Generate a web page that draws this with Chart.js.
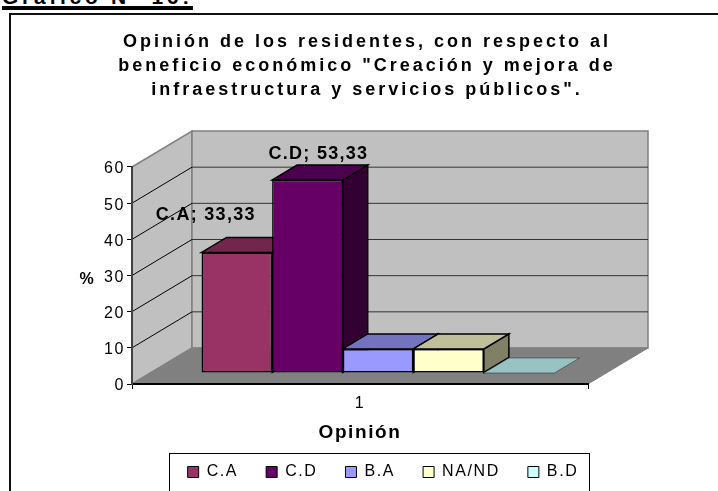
<!DOCTYPE html>
<html>
<head>
<meta charset="utf-8">
<title>Gráfico</title>
<script src="https://cdn.jsdelivr.net/npm/chart.js@4/dist/chart.umd.min.js"></script>
<style>
html, body { margin: 0; padding: 0; background: #fff; overflow: hidden; }
#wrap { position: relative; width: 718px; height: 491px; overflow: hidden; }
#head { position: absolute; left: 2px; top: -15px; font: bold 21px "Liberation Sans", Arial, sans-serif; letter-spacing: 3.7px; text-decoration: underline; text-decoration-thickness: 4px; white-space: nowrap; }
canvas { position: absolute; left: 0; top: 0; }
</style>
</head>
<body>
<div id="wrap">
<div id="head">Gráfico N° 16:</div>
<canvas id="chart" width="718" height="491"></canvas>
</div>
<script>
const categories = ['1'];
const seriesNames = ['C.A', 'C.D', 'B.A', 'NA/ND', 'B.D'];
const seriesValues = [33.33, 53.33, 6.67, 6.67, 0];
const tickValues = [0, 10, 20, 30, 40, 50, 60];
const titleLines = [
    'Opinión de los residentes, con respecto al',
    'beneficio económico "Creación y mejora de',
    'infraestructura y servicios públicos".'
];
const frontColors = ['#993366', '#660066', '#9999FF', '#FFFFCC', '#CCFFFF'];
const topColors = ['#73264D', '#4D004D', '#7373BF', '#BFBF99', '#99C2C2'];
const sideColors = ['#4D1A33', '#330033', '#4D4D80', '#808066', '#668080'];

const FONT = '"Liberation Sans", Arial, sans-serif';
// depth of the walls and of the bars, in px
const WALL = { dx: 60, dy: -36 };
const BAR_SHIFT = { dx: 18, dy: -11 };
const BAR_DEPTH = { dx: 25, dy: -15 };

function poly(ctx, pts, fill, stroke, lw) {
    ctx.beginPath();
    pts.forEach((p, i) => i ? ctx.lineTo(p[0], p[1]) : ctx.moveTo(p[0], p[1]));
    ctx.closePath();
    if (fill) { ctx.fillStyle = fill; ctx.fill(); }
    if (stroke) { ctx.strokeStyle = stroke; ctx.lineWidth = lw || 1; ctx.stroke(); }
}

const chart3d = {
    id: 'chart3d',
    beforeLayout(chart) {
        chart.ctx.letterSpacing = '1.6px';
    },
    afterLayout(chart) {
        // legend and title sit off the plot centre in the original
        chart.legend.left += 89;
        chart.legend.right += 89;
        chart.legend.top = 436;
        chart.titleBlock.left += 73;
        chart.titleBlock.right += 73;
        if (!chart.titleBlock._spaced) {
            const draw = chart.titleBlock.draw;
            chart.titleBlock.draw = function () {
                chart.ctx.letterSpacing = '3px';
                draw.call(this);
                chart.ctx.letterSpacing = '1.6px';
            };
            chart.titleBlock._spaced = true;
        }
    },
    beforeDraw(chart) {
        const ctx = chart.ctx;
        const { x, y } = chart.scales;
        const l = x.left, r = x.right, b = y.getPixelForValue(0), t = y.getPixelForValue(60);
        const { dx, dy } = WALL;
        ctx.save();
        ctx.strokeStyle = '#111';
        ctx.lineWidth = 2;
        ctx.strokeRect(10, 14, 720, 520);
        ctx.strokeStyle = '#000';
        ctx.lineWidth = 1;
        ctx.strokeRect(169.5, 453.5, 420, 60);
        poly(ctx, [[l, t], [l + dx, t + dy], [l + dx, b + dy], [l, b]], '#C0C0C0', '#808080', 1.5);
        poly(ctx, [[l + dx, t + dy], [r + dx, t + dy], [r + dx, b + dy], [l + dx, b + dy]], '#C0C0C0', '#808080', 1.5);
        poly(ctx, [[l, b], [l + dx, b + dy], [r + dx, b + dy], [r, b]], '#808080', '#808080', 1);
        tickValues.forEach(v => {
            if (v === 0 || v === 60) return;
            const py = y.getPixelForValue(v);
            ctx.strokeStyle = '#000';
            ctx.lineWidth = 1;
            ctx.beginPath();
            ctx.moveTo(l, py);
            ctx.lineTo(l + dx, py + dy);
            ctx.stroke();
            ctx.strokeStyle = '#333';
            ctx.beginPath();
            ctx.moveTo(l + dx, py + dy);
            ctx.lineTo(r + dx, py + dy);
            ctx.stroke();
        });
        ctx.restore();
    },
    beforeDatasetsDraw(chart) {
        const ctx = chart.ctx;
        const { dx, dy } = BAR_DEPTH;
        ctx.save();
        ctx.translate(BAR_SHIFT.dx, BAR_SHIFT.dy);
        seriesValues.forEach((v, i) => {
            const bar = chart.getDatasetMeta(i).data[0];
            const x0 = bar.x - bar.width / 2, x1 = bar.x + bar.width / 2;
            const yTop = bar.y, yBase = bar.base;
            if (v > 0) {
                poly(ctx, [[x1, yTop], [x1 + dx, yTop + dy], [x1 + dx, yBase + dy], [x1, yBase]], sideColors[i], '#000', 1.5);
            }
            poly(ctx, [[x0, yTop], [x1, yTop], [x1 + dx, yTop + dy], [x0 + dx, yTop + dy]], topColors[i], v > 0 ? '#000' : '#222', v > 0 ? 1.5 : 0.5);
        });
    },
    afterDatasetsDraw(chart) {
        chart.ctx.restore();
    },
    afterDraw(chart) {
        const ctx = chart.ctx;
        const { y } = chart.scales;
        ctx.save();
        ctx.fillStyle = '#000';
        ctx.textAlign = 'center';
        ctx.textBaseline = 'middle';
        // percent axis label stays horizontal, so it is not the scale title
        ctx.font = 'bold 16px ' + FONT;
        ctx.letterSpacing = '1px';
        ctx.fillText('%', 87, y.getPixelForValue(29));
        // value labels
        ctx.font = 'bold 18px ' + FONT;
        ctx.letterSpacing = '1.3px';
        const offsets = [[-31, -37], [11, -26]];
        seriesValues.forEach((v, i) => {
            if (!offsets[i]) return;
            const bar = chart.getDatasetMeta(i).data[0];
            const text = seriesNames[i] + '; ' + String(v).replace('.', ',');
            ctx.fillText(text, bar.x + BAR_SHIFT.dx + offsets[i][0], bar.y + BAR_SHIFT.dy + offsets[i][1]);
        });
        ctx.restore();
    }
};

new Chart(document.getElementById('chart'), {
    type: 'bar',
    plugins: [chart3d],
    data: {
        labels: categories,
        datasets: seriesNames.map((name, i) => ({
            label: name,
            data: [seriesValues[i]],
            backgroundColor: frontColors[i],
            borderColor: '#000',
            borderWidth: seriesValues[i] > 0 ? 1.5 : 0,
            borderSkipped: false,
            clip: false
        }))
    },
    options: {
        responsive: false,
        animation: false,
        categoryPercentage: 0.774,
        barPercentage: 1,
        layout: { padding: { top: 0, left: 0, right: 130, bottom: -17 } },
        plugins: {
            tooltip: { enabled: false },
            title: {
                display: true,
                text: titleLines,
                color: '#000',
                font: { family: FONT, size: 18, weight: 'bold', lineHeight: 1.3333 },
                padding: { top: 30, bottom: 65 }
            },
            legend: {
                position: 'bottom',
                labels: {
                    color: '#000',
                    boxWidth: 11,
                    boxHeight: 11,
                    padding: 28,
                    font: { family: FONT, size: 16 },
                    generateLabels: () => seriesNames.map((name, i) => ({
                        text: name,
                        fillStyle: frontColors[i],
                        strokeStyle: '#000',
                        lineWidth: 1,
                        datasetIndex: i
                    }))
                }
            }
        },
        scales: {
            x: {
                afterFit: s => { s.height = 70; },
                grid: { drawOnChartArea: false, tickLength: 5, tickColor: '#000', tickWidth: 1 },
                border: { color: '#000', width: 2 },
                ticks: { color: '#000', font: { family: FONT, size: 16 }, padding: 5 },
                title: {
                    display: true,
                    text: 'Opinión',
                    color: '#000',
                    font: { family: FONT, size: 19, weight: 'bold' },
                    padding: { top: 4, bottom: 10 }
                }
            },
            y: {
                min: 0,
                max: 60,
                afterFit: s => { s.width = 132; },
                afterBuildTicks: s => { s.ticks = tickValues.map(value => ({ value })); },
                grid: { drawOnChartArea: false, tickLength: 5, tickColor: '#000', tickWidth: 1 },
                border: { color: '#404040', width: 2 },
                ticks: { color: '#000', font: { family: FONT, size: 16 }, padding: 2, labelOffset: 2 }
            }
        }
    }
});
</script>
</body>
</html>
